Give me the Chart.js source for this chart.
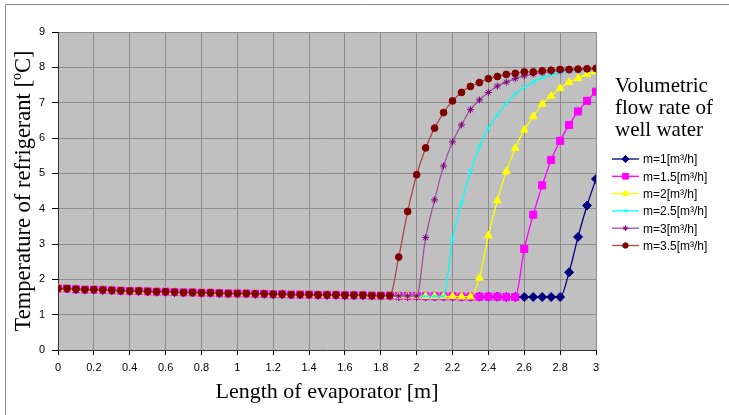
<!DOCTYPE html>
<html>
<head>
<meta charset="utf-8">
<script src="https://cdn.jsdelivr.net/npm/chart.js@4.4.1/dist/chart.umd.min.js"></script>
<style>
  html, body { margin: 0; padding: 0; background: #fff; }
  #wrap { width: 729px; height: 415px; }
</style>
</head>
<body>
<div id="wrap"><canvas id="myChart" width="729" height="415"></canvas></div>
<script>
// length positions along the evaporator, every 0.05 m
const lengths = [];
for (let i = 0; i <= 60; i++) lengths.push(Math.round(i * 5) / 100);

// flat part shared by all curves (0 .. 2.8 m)
const baseline = [1.74, 1.74, 1.72, 1.71, 1.71, 1.70, 1.69, 1.68, 1.67, 1.67,
  1.66, 1.65, 1.65, 1.64, 1.63, 1.63, 1.62, 1.62, 1.61, 1.60,
  1.60, 1.60, 1.59, 1.59, 1.58, 1.58, 1.57, 1.57, 1.57, 1.56,
  1.56, 1.56, 1.55, 1.55, 1.55, 1.54, 1.54, 1.54, 1.53, 1.53,
  1.53, 1.52, 1.52, 1.52, 1.52, 1.51, 1.51, 1.51, 1.51, 1.51,
  1.50, 1.50, 1.50, 1.50, 1.50, 1.50, 1.50];

// rising part of each curve, starting after the last flat point
const rise1 = [2.20, 3.20, 4.09, 4.84];
const rise15 = [2.86, 3.83, 4.66, 5.38, 5.92, 6.37, 6.75, 7.05, 7.31];
const rise2 = [2.04, 3.24, 4.23, 5.05, 5.71, 6.23, 6.61, 6.96, 7.19, 7.41, 7.58, 7.69, 7.81, 7.88];
const rise25 = [3.15, 4.16, 5.05, 5.76, 6.28, 6.65, 6.98, 7.24, 7.43, 7.59, 7.71, 7.79, 7.85, 7.89, 7.92, 7.94, 7.96];
const rise3 = [3.18, 4.25, 5.21, 5.89, 6.37, 6.80, 7.08, 7.29, 7.47, 7.58, 7.68, 7.76, 7.81, 7.85, 7.88, 7.90, 7.92, 7.93, 7.95, 7.96];
const rise35 = [2.63, 3.92, 4.96, 5.72, 6.28, 6.72, 7.05, 7.29, 7.46, 7.57, 7.68, 7.74, 7.80, 7.83, 7.87, 7.87, 7.90, 7.92, 7.94, 7.94, 7.95, 7.96, 7.97];

const seriesNames = ["m=1[m³/h]", "m=1.5[m³/h]", "m=2[m³/h]", "m=2.5[m³/h]", "m=3[m³/h]", "m=3.5[m³/h]"];
const flatCounts = [57, 52, 47, 44, 41, 38];
const rises = [rise1, rise15, rise2, rise25, rise3, rise35];

const markerColors = ["#000080", "#FF00FF", "#FFFF00", "#00FFFF", "#800080", "#800000"];
const lineColors = ["#000080", "#FF00FF", "#FFFF00", "#00FFFF", "#A050A0", "#A84848"];
const markerStyles = ["rectRot", "rect", "triangle", "crossRot", "star", "circle"];
const markerSizes = [4.5, 5, 4.5, 3.5, 3.5, 3.4];

function buildPoints(flatCount, rise) {
  const ys = baseline.slice(0, flatCount).concat(rise);
  const pts = [];
  for (let i = 0; i < ys.length; i++) {
    pts.push({ x: lengths[i], y: ys[i] });
  }
  return pts;
}

const datasets = [];
for (let i = 0; i < seriesNames.length; i++) {
  datasets.push({
    label: seriesNames[i],
    data: buildPoints(flatCounts[i], rises[i]),
    borderColor: lineColors[i],
    backgroundColor: markerColors[i],
    pointBorderColor: markerColors[i],
    pointBackgroundColor: markerColors[i],
    pointStyle: markerStyles[i],
    pointRadius: markerSizes[i],
    pointBorderWidth: 1,
    borderWidth: 1.3,
    cubicInterpolationMode: "monotone",
    order: seriesNames.length - i,
  });
}

const plotBg = {
  id: "plotBg",
  beforeDraw(chart) {
    const c = chart.ctx;
    const a = chart.chartArea;
    c.save();
    c.fillStyle = "#ffffff";
    c.fillRect(0, 0, chart.width, chart.height);
    c.fillStyle = "#C0C0C0";
    c.fillRect(a.left, a.top, a.right - a.left, a.bottom - a.top);
    // frame only shows on the top and left edges
    c.strokeStyle = "#8c8c8c";
    c.lineWidth = 1;
    c.beginPath();
    c.moveTo(5.5, 415);
    c.lineTo(5.5, 4.5);
    c.lineTo(729, 4.5);
    c.stroke();
    c.restore();
  },
};

const sideLegend = {
  id: "sideLegend",
  afterDraw(chart) {
    const c = chart.ctx;
    c.save();
    c.fillStyle = "#000";
    c.font = "21px 'Liberation Serif'";
    c.textBaseline = "middle";
    c.textAlign = "left";
    c.fillText("Volumetric", 615, 86);
    c.fillText("flow rate of", 615, 108);
    c.fillText("well water", 615, 130);
    c.font = "12px 'Liberation Sans'";
    for (let i = 0; i < seriesNames.length; i++) {
      const y = 159 + i * 17.3;
      c.strokeStyle = lineColors[i];
      c.lineWidth = 1.3;
      c.beginPath();
      c.moveTo(612, y);
      c.lineTo(639, y);
      c.stroke();
      c.fillStyle = markerColors[i];
      c.strokeStyle = markerColors[i];
      c.lineWidth = 1;
      Chart.helpers.drawPoint(c, { pointStyle: markerStyles[i], radius: markerSizes[i] * 0.8, rotation: 0, borderWidth: 1 }, 625.5, y);
      c.fillStyle = "#000";
      c.fillText(seriesNames[i], 643, y + 1);
    }
    c.restore();
  },
};

function plainTick(value) {
  return String(Number(value.toFixed(1)));
}

new Chart(document.getElementById("myChart"), {
  type: "line",
  data: { datasets: datasets },
  options: {
    responsive: false,
    animation: false,
    layout: { padding: { left: 0, right: 133, top: 32, bottom: 0 } },
    plugins: { legend: { display: false }, tooltip: { enabled: false } },
    scales: {
      x: {
        type: "linear",
        min: 0,
        max: 3,
        afterFit(scale) { scale.height = 65; },
        ticks: { stepSize: 0.2, color: "#000", font: { family: "'Liberation Sans'", size: 11 }, padding: 6, callback: plainTick },
        grid: { color: "#8c8c8c", tickLength: 5, tickColor: "#000" },
        border: { color: "#333", width: 1 },
        title: {
          display: true,
          text: "Length of evaporator [m]",
          color: "#000",
          font: { family: "'Liberation Serif'", size: 22 },
          padding: { top: 0, bottom: 10 },
        },
      },
      y: {
        min: 0,
        max: 9,
        afterFit(scale) { scale.width = 58; },
        ticks: { stepSize: 1, color: "#000", font: { family: "'Liberation Sans'", size: 11 }, padding: 7, callback: plainTick },
        grid: { color: "#8c8c8c", tickLength: 6, tickColor: "#000" },
        border: { color: "#333", width: 1 },
        title: {
          display: true,
          text: "Temperature of refrigerant [ºC]",
          color: "#000",
          font: { family: "'Liberation Serif'", size: 22.5 },
          padding: { top: 11, bottom: 0 },
        },
      },
    },
  },
  plugins: [plotBg, sideLegend],
});
</script>
</body>
</html>
